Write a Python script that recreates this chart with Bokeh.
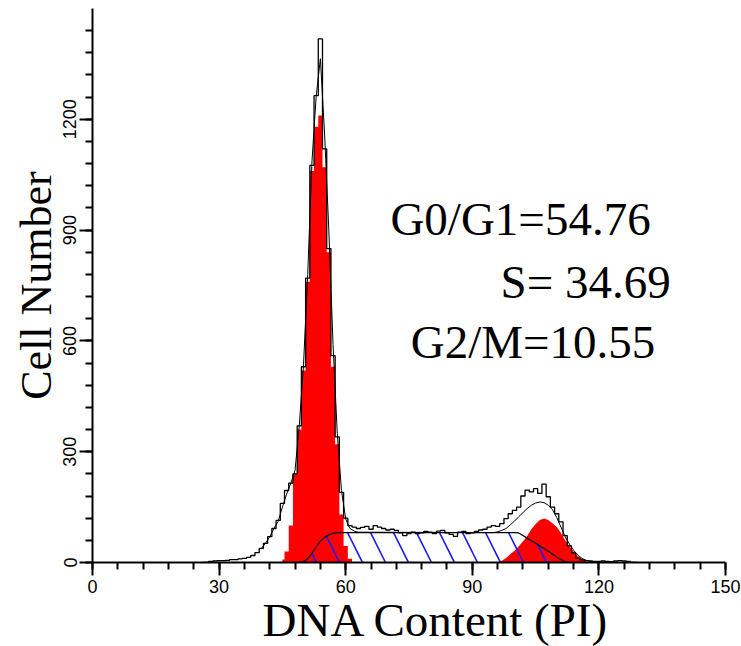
from bokeh.plotting import figure
from bokeh.models import FixedTicker, Label, Title
from bokeh.embed import file_html
from bokeh.resources import INLINE

# ---- axes ----
x_ticks = [0, 30, 60, 90, 120, 150]
y_ticks = [0, 300, 600, 900, 1200]
x_minor = list(range(0, 151, 6))
y_minor = list(range(0, 1441, 60))

# ---- raw histogram (channel counts) ----
raw_channels = list(range(26, 130))
raw_counts = [0, 0, 3, 4, 5, 5, 6, 8, 8, 10,
              11, 14, 19, 27, 38, 52, 70, 92, 114, 160,
              195, 215, 240, 370, 530, 770, 1075, 1264, 1418, 1120,
              850, 560, 340, 190, 120, 100, 96, 92, 95, 98,
              90, 100, 96, 92, 88, 90, 87, 80, 73, 78,
              82, 78, 80, 84, 82, 78, 85, 87, 80, 76,
              71, 82, 84, 78, 80, 84, 88, 90, 96, 100,
              98, 105, 119, 132, 141, 150, 180, 196, 191, 200,
              187, 212, 178, 150, 132, 110, 73, 45, 26, 12,
              7, 5, 4, 3, 3, 4, 3, 2, 4, 5,
              4, 3, 0, 0]

# ---- fitted components ----
g1_channels = list(range(45, 63))
g1_counts = [8, 30, 100, 240, 360, 520, 760, 1060, 1180, 1210,
             1070, 840, 530, 320, 130, 45, 10, 0]

g2_channels = list(range(96, 119))
g2_counts = [0, 5, 12, 22, 32, 44, 57, 72, 90, 104, 115, 119,
             115, 106, 96, 80, 60, 45, 30, 17, 8, 3, 0]

s_channels = [49, 50, 51, 52, 53, 54, 55, 56, 57, 58,
              100, 101, 102, 103, 104, 105, 106, 107, 108, 109,
              110, 111, 112, 113]
s_counts = [0, 3, 10, 25, 42, 58, 68, 75, 79, 81,
            81, 80, 73, 66, 59, 52, 45, 38, 31, 23,
            15, 8, 2, 0]

fit_channels = [40, 41, 42, 43, 44, 45, 46, 47, 48, 49,
                50, 51, 52, 53, 54, 55, 56, 57, 58, 59,
                60, 61, 62, 63,
                95, 96, 97, 98, 99, 100, 101, 102, 103, 104,
                105, 106, 107, 108, 109, 110, 111, 112, 113, 114,
                115, 116, 117, 118, 119]
fit_counts = [38, 52, 70, 92, 112, 150, 185, 215, 250, 370,
              535, 780, 1085, 1262, 1364, 1160, 900, 590, 350, 195,
              118, 92, 85, 82,
              81, 83, 87, 92, 102, 112, 124, 135, 146, 155,
              161, 164, 162, 155, 143, 122, 96, 70, 50, 33,
              20, 11, 6, 3, 0]

phase_names = ["G0/G1", "S", "G2/M"]
phase_percent = [54.76, 34.69, 10.55]

p = figure(frame_width=633, frame_height=554, x_range=(0, 150), y_range=(0, 1500),
           output_backend="svg", toolbar_location=None,
           min_border_left=92, min_border_right=16, min_border_top=8,
           min_border_bottom=84, outline_line_color=None,
           background_fill_color="white", border_fill_color="white")
p.xgrid.visible = False
p.ygrid.visible = False

for ax in (p.xaxis[0], p.yaxis[0]):
    ax.axis_line_width = 2
    ax.axis_line_color = "black"
    ax.major_tick_line_width = 2
    ax.minor_tick_line_width = 2
    ax.major_tick_in = 0
    ax.minor_tick_in = 0
    ax.major_tick_out = 13
    ax.minor_tick_out = 7
    ax.major_label_text_font = "Liberation Sans"
    ax.major_label_text_font_size = "18px"
    ax.major_label_text_color = "black"

p.xaxis[0].ticker = FixedTicker(ticks=x_ticks, minor_ticks=x_minor)
p.xaxis[0].major_label_standoff = 4
p.yaxis[0].ticker = FixedTicker(ticks=y_ticks, minor_ticks=y_minor)
p.yaxis[0].major_label_orientation = "vertical"
p.yaxis[0].major_label_standoff = 3
p.yaxis[0].axis_label = "Cell Number"
p.yaxis[0].axis_label_text_font = "Liberation Serif"
p.yaxis[0].axis_label_text_font_size = "44px"
p.yaxis[0].axis_label_text_font_style = "normal"
p.yaxis[0].axis_label_text_color = "black"
p.yaxis[0].axis_label_standoff = 0

# red G1 / G2 peaks
p.varea_step(x=g1_channels, y1=0, y2=g1_counts, step_mode="center",
             fill_color="#ff0000")
p.varea(x=g2_channels, y1=0, y2=g2_counts, fill_color="#ff0000")
# S phase hatched
p.varea(x=s_channels, y1=0, y2=s_counts, fill_color="white", fill_alpha=0,
        hatch_pattern="\\", hatch_color="#1a1aff", hatch_scale=46,
        hatch_weight=1.6)
p.line(s_channels, s_counts, line_color="black", line_width=1.2)
# fit and raw data
p.line(fit_channels, fit_counts, line_color="black", line_width=1)
p.step(raw_channels, raw_counts, mode="center", line_color="black",
       line_width=1.3)

# x axis label as a bottom title
p.add_layout(Title(text="DNA Content (PI)", align="left", offset=170,
                   text_font="Liberation Serif", text_font_size="47px",
                   text_font_style="normal", text_color="black",
                   standoff=-8), "below")

# phase percentages
texts = [f"{phase_names[0]}={phase_percent[0]:.2f}",
         f"{phase_names[1]}= {phase_percent[1]:.2f}",
         f"{phase_names[2]}={phase_percent[2]:.2f}"]
pos_x = [70.6, 96.7, 75.4]
pos_y = [930, 760, 597]
for t, xx, yy in zip(texts, pos_x, pos_y):
    p.add_layout(Label(x=xx, y=yy, text=t, text_font="Liberation Serif",
                       text_font_size="47px", text_baseline="alphabetic",
                       text_color="black"))

open("out.html", "w").write(file_html(p, INLINE))
